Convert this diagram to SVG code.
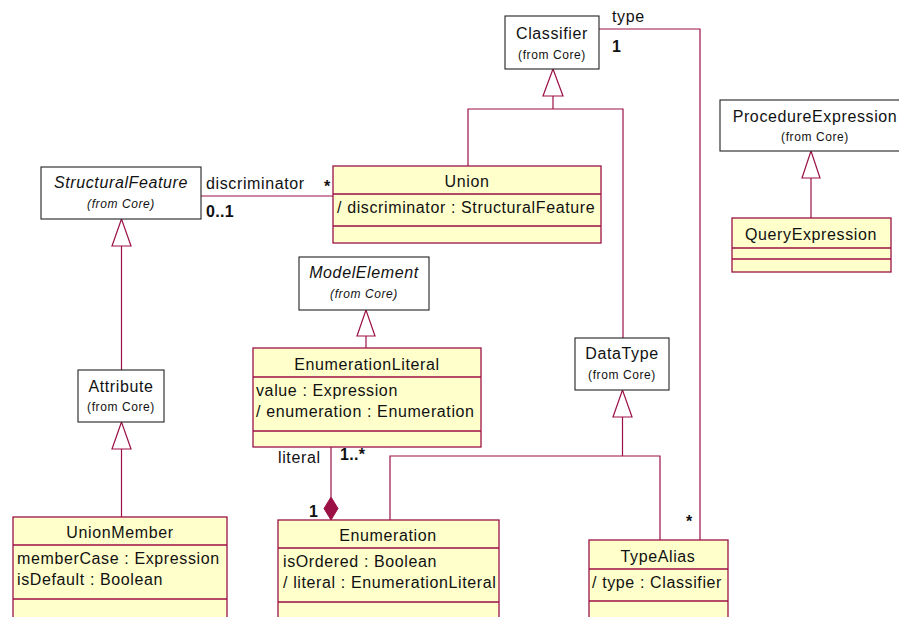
<svg xmlns="http://www.w3.org/2000/svg" width="899" height="617" viewBox="0 0 899 617">
  <style>
    text { font-family: "Liberation Sans", Arial, sans-serif; fill: #111; letter-spacing: 0.62px; }
    .name { font-size: 16px; text-anchor: middle; }
    .attr { font-size: 16px; }
    .sub { font-size: 12px; text-anchor: middle; letter-spacing: 0.6px; }
    .it { font-style: italic; }
    .role { font-size: 16px; }
    .mult { font-size: 16px; font-weight: bold; letter-spacing: 0.3px; }
    .cls rect, .cls line { stroke: #9b1146; stroke-width: 1.3; }
    .cls rect { fill: #ffffcc; }
    .ext rect { fill: #ffffff; stroke: #222; stroke-width: 1.1; }
    .edge { fill: none; stroke: #9b1146; stroke-width: 1.2; }
    .tri { fill: #ffffff; stroke: #9b1146; stroke-width: 1.2; }
    .dia { fill: #9b1146; stroke: #9b1146; stroke-width: 1; }
  </style>

  <!-- connectors -->
  <g id="connectors">
    <!-- Union / DataType generalize Classifier -->
    <path class="edge" d="M468 166 V109 H623 V338"/>
    <path class="edge" d="M553 109 V96"/>
    <polygon class="tri" points="553,69 543,96 563,96"/>
    <!-- TypeAlias.type -> Classifier -->
    <path class="edge" d="M599 29 H700 V540"/>
    <!-- Union.discriminator -> StructuralFeature -->
    <path class="edge" d="M201 196 H333"/>
    <!-- Attribute generalizes StructuralFeature -->
    <path class="edge" d="M121.5 370 V246"/>
    <polygon class="tri" points="121.5,219 112,246 131,246"/>
    <!-- UnionMember generalizes Attribute -->
    <path class="edge" d="M121.5 517 V449"/>
    <polygon class="tri" points="121.5,422 112,449 131,449"/>
    <!-- QueryExpression generalizes ProcedureExpression -->
    <path class="edge" d="M811 218 V178"/>
    <polygon class="tri" points="811,151 802,178 820,178"/>
    <!-- EnumerationLiteral generalizes ModelElement -->
    <path class="edge" d="M366 348 V336"/>
    <polygon class="tri" points="366,310 357,336 375,336"/>
    <!-- Enumeration / TypeAlias generalize DataType -->
    <path class="edge" d="M390 520 V456 H660 V540"/>
    <path class="edge" d="M622.5 456 V417"/>
    <polygon class="tri" points="622.5,390 613,417 632,417"/>
    <!-- Enumeration owns EnumerationLiteral -->
    <path class="edge" d="M331 447 V497"/>
    <polygon class="dia" points="331,497 338,508.5 331,520 324,508.5"/>

    <!-- role names and multiplicities -->
    <text class="role" x="612" y="22">type</text>
    <text class="mult" x="612" y="52">1</text>
    <text class="mult" x="686" y="527">*</text>
    <text class="role" x="206" y="189">discriminator</text>
    <text class="mult" x="206" y="217">0..1</text>
    <text class="mult" x="324" y="192">*</text>
    <text class="role" x="278" y="463">literal</text>
    <text class="mult" x="340" y="460">1..*</text>
    <text class="mult" x="309" y="517">1</text>
  </g>

  <!-- external (Core) classes -->
  <g id="Classifier" class="ext">
    <rect x="505" y="16" width="94" height="53"/>
    <text class="name" x="552" y="39">Classifier</text>
    <text class="sub" x="552" y="59">(from Core)</text>
  </g>
  <g id="StructuralFeature" class="ext">
    <rect x="41" y="167" width="160" height="52"/>
    <text class="name it" x="121" y="188">StructuralFeature</text>
    <text class="sub it" x="121" y="208">(from Core)</text>
  </g>
  <g id="ProcedureExpression" class="ext">
    <rect x="720" y="100" width="190" height="51"/>
    <text class="name" x="815" y="122">ProcedureExpression</text>
    <text class="sub" x="815" y="141">(from Core)</text>
  </g>
  <g id="ModelElement" class="ext">
    <rect x="299" y="257" width="130" height="53"/>
    <text class="name it" x="364" y="278">ModelElement</text>
    <text class="sub it" x="364" y="298">(from Core)</text>
  </g>
  <g id="DataType" class="ext">
    <rect x="575" y="338" width="94" height="52"/>
    <text class="name" x="622" y="359">DataType</text>
    <text class="sub" x="622" y="379">(from Core)</text>
  </g>
  <g id="Attribute" class="ext">
    <rect x="78" y="370" width="86" height="52"/>
    <text class="name" x="121" y="392">Attribute</text>
    <text class="sub" x="121" y="411">(from Core)</text>
  </g>

  <!-- package classes -->
  <g id="Union" class="cls">
    <rect x="333" y="166" width="268" height="77"/>
    <line x1="333" y1="194" x2="601" y2="194"/>
    <line x1="333" y1="226" x2="601" y2="226"/>
    <text class="name" x="467" y="187">Union</text>
    <text class="attr" x="337" y="213">/ discriminator : StructuralFeature</text>
  </g>
  <g id="QueryExpression" class="cls">
    <rect x="732" y="218" width="159" height="54"/>
    <line x1="732" y1="248" x2="891" y2="248"/>
    <line x1="732" y1="259" x2="891" y2="259"/>
    <text class="name" x="811" y="240">QueryExpression</text>
  </g>
  <g id="EnumerationLiteral" class="cls">
    <rect x="253" y="348" width="228" height="99"/>
    <line x1="253" y1="377" x2="481" y2="377"/>
    <line x1="253" y1="431" x2="481" y2="431"/>
    <text class="name" x="367" y="370">EnumerationLiteral</text>
    <text class="attr" x="256" y="396">value : Expression</text>
    <text class="attr" x="256" y="417">/ enumeration : Enumeration</text>
  </g>
  <g id="UnionMember" class="cls">
    <rect x="13" y="517" width="214" height="120"/>
    <line x1="13" y1="545" x2="227" y2="545"/>
    <line x1="13" y1="599" x2="227" y2="599"/>
    <text class="name" x="120" y="538">UnionMember</text>
    <text class="attr" x="17" y="564">memberCase : Expression</text>
    <text class="attr" x="17" y="585">isDefault : Boolean</text>
  </g>
  <g id="Enumeration" class="cls">
    <rect x="278" y="520" width="221" height="120"/>
    <line x1="278" y1="548" x2="499" y2="548"/>
    <line x1="278" y1="602" x2="499" y2="602"/>
    <text class="name" x="388" y="541">Enumeration</text>
    <text class="attr" x="283" y="567">isOrdered : Boolean</text>
    <text class="attr" x="283" y="588">/ literal : EnumerationLiteral</text>
  </g>
  <g id="TypeAlias" class="cls">
    <rect x="589" y="540" width="139" height="100"/>
    <line x1="589" y1="569" x2="728" y2="569"/>
    <line x1="589" y1="601" x2="728" y2="601"/>
    <text class="name" x="658" y="562">TypeAlias</text>
    <text class="attr" x="592" y="588">/ type : Classifier</text>
  </g>
</svg>
